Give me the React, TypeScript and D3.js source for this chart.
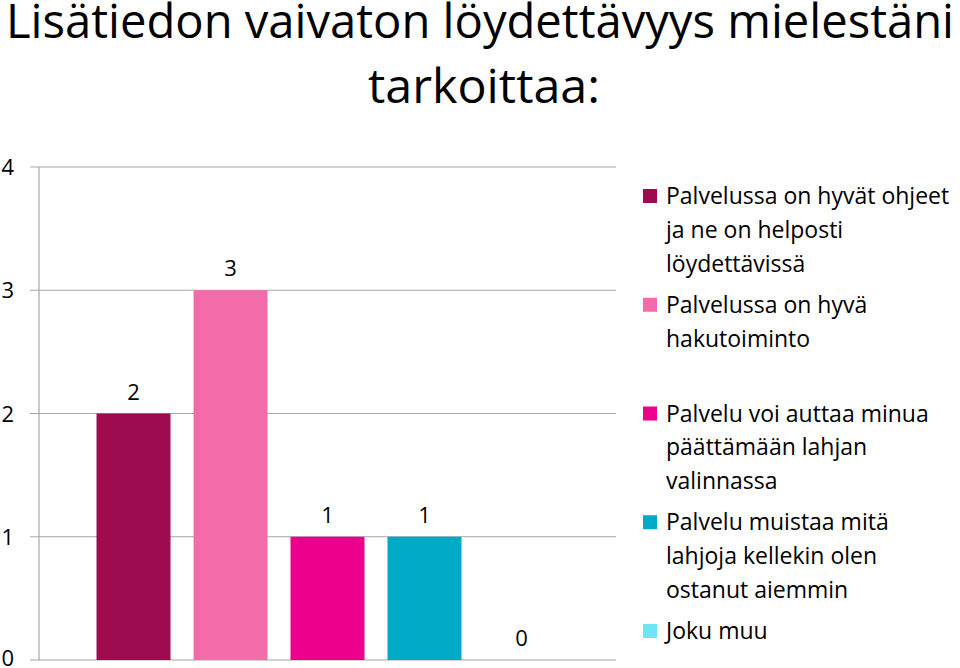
import { useEffect, useRef } from 'react';
import * as d3 from 'd3';

const titleLines = ['Lisätiedon vaivaton löydettävyys mielestäni', 'tarkoittaa:'];
const seriesNames = [
    'Palvelussa on hyvät ohjeet\nja ne on helposti\nlöydettävissä',
    'Palvelussa on hyvä\nhakutoiminto',
    'Palvelu voi auttaa minua\npäättämään lahjan\nvalinnassa',
    'Palvelu muistaa mitä\nlahjoja kellekin olen\nostanut aiemmin',
    'Joku muu',
];
const seriesValues = [2, 3, 1, 1, 0];
const seriesColors = ['#9e0c4f', '#f46baa', '#ec008c', '#00a9c6', '#6fe6f8'];
const yTicks = [0, 1, 2, 3, 4];

const FONT = '"Open Sans", "Noto Sans", sans-serif';

const App = () => {
    const ref = useRef(null);

    useEffect(() => {
        const svg = d3.select(ref.current);
        svg.selectAll('*').remove();

        const width = 960;
        const height = 668;
        const left = 39, right = 616, top = 167, bottom = 660;

        svg.attr('width', width).attr('height', height).style('font-family', FONT);

        // title (two lines, stretched to the reference widths)
        svg.append('g')
            .selectAll('text')
            .data(titleLines)
            .join('text')
            .attr('x', (d, i) => i === 0 ? 480 : 484)
            .attr('y', (d, i) => 38 + i * 65)
            .attr('text-anchor', 'middle')
            .style('font-size', '47px')
            .attr('textLength', (d, i) => i === 0 ? 948 : 232)
            .attr('lengthAdjust', 'spacingAndGlyphs')
            .attr('fill', '#000')
            .text(d => d);

        const y = d3.scaleLinear().domain([0, 4]).range([bottom, top]);
        const x = d3.scaleBand()
            .domain(seriesNames)
            .range([left, right])
            .paddingInner(0.237)
            .paddingOuter(0.593);

        // gridlines + ticks
        svg.append('g')
            .selectAll('line')
            .data(yTicks)
            .join('line')
            .attr('x1', 30)
            .attr('x2', right)
            .attr('y1', d => y(d))
            .attr('y2', d => y(d))
            .attr('stroke', '#a6a6a6')
            .attr('stroke-width', 1.2);

        svg.append('line')
            .attr('x1', left).attr('x2', left)
            .attr('y1', top).attr('y2', bottom)
            .attr('stroke', '#a6a6a6')
            .attr('stroke-width', 1.2);

        svg.append('g')
            .selectAll('text')
            .data(yTicks)
            .join('text')
            .attr('x', 14)
            .attr('y', d => Math.min(y(d) + 8, 666))
            .attr('text-anchor', 'end')
            .style('font-size', '22px')
            .text(d => d);

        // bars
        svg.append('g')
            .selectAll('rect')
            .data(seriesNames.slice(0, 4))
            .join('rect')
            .attr('x', d => x(d))
            .attr('width', x.bandwidth())
            .attr('y', (d, i) => y(seriesValues[i]))
            .attr('height', (d, i) => y(0) - y(seriesValues[i]))
            .attr('fill', (d, i) => seriesColors[i]);

        // value labels
        svg.append('g')
            .selectAll('text')
            .data(seriesNames)
            .join('text')
            .attr('x', d => x(d) + x.bandwidth() / 2)
            .attr('y', (d, i) => y(seriesValues[i]) - 14)
            .attr('text-anchor', 'middle')
            .style('font-size', '22px')
            .text((d, i) => seriesValues[i]);

        // legend
        const legend = svg.append('g')
            .selectAll('g')
            .data(seriesNames)
            .join('g')
            .attr('transform', (d, i) => `translate(643,${196 + i * 108.75})`);

        legend.append('rect')
            .attr('x', 0)
            .attr('y', -7)
            .attr('width', 14)
            .attr('height', 14)
            .attr('fill', (d, i) => seriesColors[i]);

        legend.append('text')
            .style('font-size', '23px')
            .selectAll('tspan')
            .data(d => d.split('\n'))
            .join('tspan')
            .attr('x', 23)
            .attr('y', (d, i) => 8 + i * 33.8)
            .text(d => d);
    }, []);

    return <svg ref={ref} style={{ position: 'absolute', left: 0, top: 0 }} />;
};

export default App;
